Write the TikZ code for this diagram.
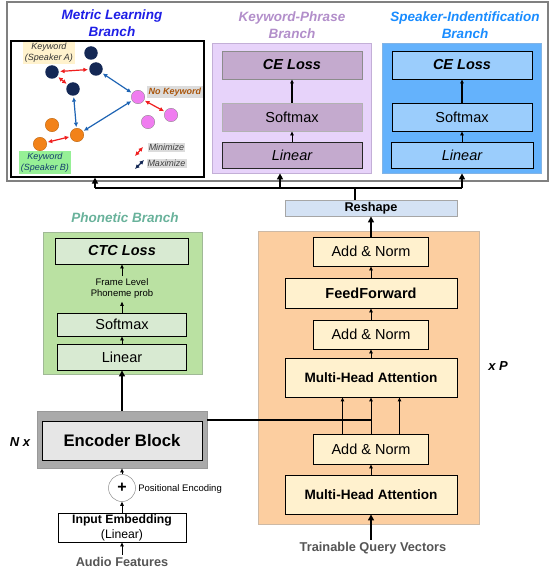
\documentclass[tikz,border=0pt]{standalone}
\usepackage{fontspec}
\setmainfont{Liberation Sans}
\usepackage{xcolor}
\usetikzlibrary{arrows.meta}

\definecolor{mlBlue}{RGB}{30,30,230}
\definecolor{kpTitle}{RGB}{178,142,202}
\definecolor{kpOuter}{RGB}{231,211,250}
\definecolor{kpLine}{RGB}{195,175,215}
\definecolor{kpInner}{RGB}{196,170,206}
\definecolor{siTitle}{RGB}{25,140,255}
\definecolor{siOuter}{RGB}{100,178,252}
\definecolor{siLine}{RGB}{130,180,230}
\definecolor{siInner}{RGB}{155,205,252}
\definecolor{phTitle}{RGB}{105,178,155}
\definecolor{phOuter}{RGB}{186,225,162}
\definecolor{phLine}{RGB}{160,185,150}
\definecolor{phInner}{RGB}{216,234,210}
\definecolor{encOuterC}{RGB}{170,170,170}
\definecolor{encInnerC}{RGB}{230,230,230}
\definecolor{decOuter}{RGB}{252,206,160}
\definecolor{decLine}{RGB}{205,185,165}
\definecolor{decInner}{RGB}{255,241,206}
\definecolor{rsFill}{RGB}{212,226,244}
\definecolor{spNavy}{RGB}{20,40,85}
\definecolor{spOrange}{RGB}{242,130,25}
\definecolor{nkPink}{RGB}{240,125,240}
\definecolor{arrRed}{RGB}{240,30,30}
\definecolor{arrBlue}{RGB}{30,100,180}
\definecolor{nkBrown}{RGB}{170,85,10}
\definecolor{labYellow}{RGB}{255,242,205}
\definecolor{labGreen}{RGB}{150,240,150}
\definecolor{labGray}{RGB}{220,220,220}
\definecolor{txtGray}{RGB}{85,85,85}

\tikzset{every picture/.style={line width=0.75pt},
  title/.style={align=center, font=\fontsize{13.5}{17}\selectfont\bfseries\itshape},
  panel/.style={draw, inner sep=0pt, line width=0.8pt},
  blk/.style={draw, inner sep=0pt, align=center, line width=0.9pt, font=\fontsize{14.5}{17}\selectfont},
  dot/.style={circle, inner sep=0pt, minimum size=13.5},
  lab/.style={inner sep=1.5pt, align=center, font=\fontsize{9}{11}\selectfont\itshape},
  arr/.style={-{Triangle[length=4pt,width=3.5pt]}},
  tarr/.style={line width=2pt, -{Triangle[length=6pt,width=6pt]}},
  dbl/.style={{Latex[length=4.5pt,width=4.5pt]}-{Latex[length=4.5pt,width=4.5pt]}, line width=1.2pt, shorten <=1pt, shorten >=1pt}
}

\begin{document}
\begin{tikzpicture}[x=1pt,y=1pt,yscale=-1,xscale=1]
\useasboundingbox (0,0) rectangle (550,575);

% frame round the three top branches
\node[panel, draw=gray, line width=1.3pt, minimum width=541, minimum height=179] (topFrame) at (277.5,91.5) {};

% ---- Metric learning branch
\node[title, text=mlBlue] (mlTitle) at (112,23.5) {Metric Learning\\Branch};
\node[panel, fill=white, line width=1.2pt, minimum width=193, minimum height=136] (mlBox) at (107.5,109) {};
% speaker A
\node[dot, fill=spNavy] (spA1) at (91,53) {};
\node[dot, fill=spNavy] (spA2) at (52,72) {};
\node[dot, fill=spNavy] (spA3) at (96,69) {};
\node[dot, fill=spNavy] (spA4) at (73,89) {};
% speaker B
\node[dot, fill=spOrange, draw=orange!70!black, line width=0.3pt] (spB1) at (52,125) {};
\node[dot, fill=spOrange, draw=orange!70!black, line width=0.3pt] (spB2) at (77,135) {};
\node[dot, fill=spOrange, draw=orange!70!black, line width=0.3pt] (spB3) at (40,144) {};
% no keyword
\node[dot, fill=nkPink, draw=gray, line width=0.3pt] (nk1) at (138,97) {};
\node[dot, fill=nkPink, draw=gray, line width=0.3pt] (nk2) at (171,115) {};
\node[dot, fill=nkPink, draw=gray, line width=0.3pt] (nk3) at (148,122) {};
% minimize
\draw[dbl, arrRed] (spA2) -- (spA3);
\draw[dbl, arrRed] (spA2) -- (spA4);
\draw[dbl, arrRed] (spB3) -- (spB2);
\draw[dbl, arrRed] (nk1) -- (nk2);
% maximize
\draw[dbl, arrBlue] (spA4) -- (spB2);
\draw[dbl, arrBlue] (spA3) -- (nk1);
\draw[dbl, arrBlue] (spB2) -- (nk1);
% labels
\node[lab, fill=labYellow, text=black!80] (labA) at (49,53) {Keyword\\(Speaker A)};
\node[lab, fill=labGreen, text=arrBlue!60!black] (labB) at (45,162.5) {Keyword\\(Speaker B)};
\node[lab, fill=labGray, text=nkBrown, font=\fontsize{9}{11}\selectfont\bfseries\itshape] (labNK) at (175,92) {No Keyword};
\node[lab, fill=labGray, text=black!75, inner sep=1pt] (labMin) at (166.5,147.5) {Minimize};
\node[lab, fill=labGray, text=black!75, inner sep=1pt] (labMax) at (166.5,163.5) {Maximize};
\coordinate (minA) at (135,156);
\coordinate (minB) at (143,147);
\coordinate (maxA) at (135,169);
\coordinate (maxB) at (144,160);
\draw[dbl, arrRed, shorten <=0pt, shorten >=0pt] (minA) -- (minB);
\draw[dbl, spNavy, shorten <=0pt, shorten >=0pt] (maxA) -- (maxB);

% ---- Keyword-phrase branch
\node[title, text=kpTitle] (kpTitleN) at (292,25) {Keyword-Phrase\\Branch};
\node[panel, fill=kpOuter, draw=kpLine, minimum width=159, minimum height=130] (kpBox) at (291.5,108) {};
\node[blk, fill=kpInner, draw=black!45, minimum width=140, minimum height=28, font=\fontsize{14.5}{17}\selectfont\bfseries\itshape] (kpLoss) at (292,65) {CE Loss};
\node[blk, fill=kpInner, draw=black!30, minimum width=140, minimum height=28] (kpSoft) at (292,117) {Softmax};
\node[blk, fill=kpInner, draw=black!85, minimum width=140, minimum height=26, font=\fontsize{14.5}{17}\selectfont\itshape] (kpLin) at (292,155) {Linear};
\draw[arr] (kpLin) -- (kpSoft);
\draw[arr, line width=1.2pt] (kpSoft) -- (kpLoss);

% ---- Speaker-identification branch
\node[title, text=siTitle] (siTitleN) at (465,25) {Speaker-Indentification\\Branch};
\node[panel, fill=siOuter, draw=siLine, minimum width=159, minimum height=130] (siBox) at (461.5,108) {};
\node[blk, fill=siInner, minimum width=140, minimum height=28, font=\fontsize{14.5}{17}\selectfont\bfseries\itshape] (siLoss) at (462,65) {CE Loss};
\node[blk, fill=siInner, minimum width=140, minimum height=28] (siSoft) at (462,117) {Softmax};
\node[blk, fill=siInner, minimum width=142, minimum height=26, font=\fontsize{14.5}{17}\selectfont\itshape] (siLin) at (462,155) {Linear};
\draw[arr] (siLin) -- (siSoft);
\draw[arr, line width=1.2pt] (siSoft) -- (siLoss);

% ---- bus from Reshape to the three branches
\coordinate (busL) at (95,188);
\coordinate (busK) at (280,188);
\coordinate (busM) at (355,188);
\coordinate (busR) at (462,188);
\node[blk, fill=rsFill, draw=black!35, minimum width=172, minimum height=16, font=\fontsize{12.7}{15}\selectfont\bfseries] (reshape) at (371,208) {Reshape};
\draw[line width=2pt] (busM |- reshape.north) -- (busM);
\draw[line width=2pt] (busL) -- (busR);
\draw[tarr] (busL) -- (busL |- mlBox.south);
\draw[tarr] (busK) -- (busK |- kpBox.south);
\draw[tarr] (busR) -- (busR |- siBox.south);

% ---- Phonetic branch
\node[title, text=phTitle] (phTitleN) at (125,218) {Phonetic Branch};
\node[panel, fill=phOuter, draw=phLine, minimum width=159, minimum height=142] (phBox) at (122.5,303) {};
\node[blk, fill=phInner, minimum width=133, minimum height=26, font=\fontsize{14.5}{17}\selectfont\bfseries\itshape] (phLoss) at (122,251) {CTC Loss};
\node[align=center, inner sep=2.5pt, font=\fontsize{9.5}{11}\selectfont] (phNote) at (122,289) {Frame Level\\Phoneme prob};
\node[blk, fill=phInner, minimum width=129, minimum height=23] (phSoft) at (122,324.5) {Softmax};
\node[blk, fill=phInner, minimum width=129, minimum height=26] (phLin) at (122,357) {Linear};
\draw[arr] (phLin) -- (phSoft);
\draw[arr] (phSoft) -- (phNote);
\draw[arr] (phNote) -- (phLoss);

% ---- Encoder
\node[panel, fill=encOuterC, draw=black!40, minimum width=170, minimum height=57] (encOuter) at (122,439.5) {};
\node[blk, fill=encInnerC, minimum width=160, minimum height=39, font=\fontsize{16.7}{19}\selectfont\bfseries] (encBlock) at (122,440.5) {Encoder Block};
\node[font=\fontsize{13}{15}\selectfont\bfseries\itshape] (nX) at (20,442) {N x};
\draw[tarr] (encOuter) -- (phLin);
\node[circle, draw=black!45, fill=white, line width=0.5pt, minimum size=27, inner sep=0pt, font=\fontsize{16}{18}\selectfont\bfseries] (posAdd) at (122,488) {+};
\node[anchor=west, inner sep=0pt, font=\fontsize{9.5}{11}\selectfont] (posText) at (138,489) {Positional Encoding};
\node[blk, fill=white, minimum width=128, minimum height=29, font=\fontsize{12.2}{15}\selectfont] (inEmb) at (122,527.5) {\textbf{Input Embedding}\\(Linear)};
\node[text=txtGray, inner sep=2pt, font=\fontsize{12.7}{15}\selectfont\bfseries] (audio) at (122,562) {Audio Features};
\draw[arr] (posAdd) -- (encOuter);
\draw[arr] (inEmb) -- (posAdd);
\draw[arr] (audio) -- (inEmb);

% ---- Query decoder
\node[panel, fill=decOuter, draw=decLine, minimum width=221, minimum height=293] (decBox) at (368.5,377.5) {};
\node[font=\fontsize{13}{15}\selectfont\bfseries\itshape] (xP) at (498,366) {x P};
\node[blk, fill=decInner, minimum width=115, minimum height=29] (addTop) at (371,251.5) {Add \& Norm};
\node[blk, fill=decInner, minimum width=172, minimum height=30, font=\fontsize{14.5}{17}\selectfont\bfseries] (ffn) at (371,293) {FeedForward};
\node[blk, fill=decInner, minimum width=115, minimum height=29] (addMid) at (371,334.5) {Add \& Norm};
\node[blk, fill=decInner, minimum width=172, minimum height=39, font=\fontsize{13.6}{16}\selectfont\bfseries] (mhaTop) at (371,377.5) {Multi-Head Attention};
\node[blk, fill=decInner, minimum width=115, minimum height=30] (addLow) at (371,449) {Add \& Norm};
\node[blk, fill=decInner, minimum width=172, minimum height=39, font=\fontsize{13.6}{16}\selectfont\bfseries] (mhaLow) at (371,494.5) {Multi-Head Attention};
\node[text=txtGray, inner sep=2pt, font=\fontsize{12.8}{15}\selectfont\bfseries] (query) at (373,548) {Trainable Query Vectors};
\draw[tarr] (addTop) -- (reshape);
\draw[arr] (ffn) -- (addTop);
\draw[arr] (addMid) -- (ffn);
\draw[arr] (mhaTop) -- (addMid);
\foreach \dx in {-28.5,0,28.5}
  \draw[arr, line width=1pt] ([xshift=\dx]addLow.north) -- ([xshift=\dx]addLow.north |- mhaTop.south);
\draw[arr] (mhaLow) -- (addLow);
\draw[tarr] (query.north -| mhaLow) -- (mhaLow);
% encoder output into the decoder
\coordinate (kvIn) at (371,420);
\draw[line width=1.3pt] (encOuter.east |- kvIn) -- (kvIn);

\end{tikzpicture}
\end{document}
